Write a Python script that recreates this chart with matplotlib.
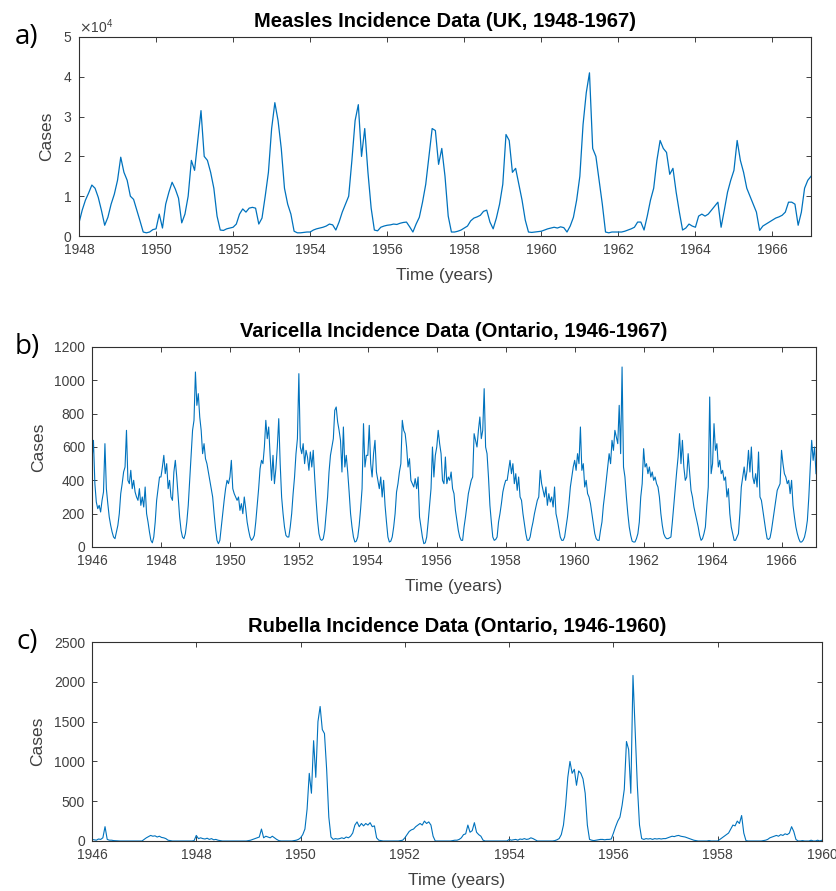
import numpy as np
import matplotlib
matplotlib.use("Agg")
import matplotlib.pyplot as plt

# measles, UK, monthly values in thousands of cases (1948 .. 1967)
measles_k = [
    3.3, 6.5, 9.0, 10.8, 12.8, 12.0, 9.7, 6.4, 2.7, 4.7, 8.0, 10.5,     # 1948
    14, 19.8, 16, 14, 10, 9.2, 6.5, 3.8, 1.0, 0.8, 1.0, 1.6,            # 1949
    1.8, 5.5, 2.0, 8.0, 11.0, 13.5, 11.8, 9.5, 3.3, 5.5, 10.0, 19.0,    # 1950
    16.5, 24, 31.5, 20, 19, 16, 12, 5, 1.5, 1.4, 1.8, 2.0,              # 1951
    2.2, 3.0, 5.5, 6.8, 6.0, 7.0, 7.2, 7.0, 3.0, 4.5, 10, 16,           # 1952
    27, 33.5, 29, 22, 12, 8, 5.5, 1.2, 0.8, 0.8, 0.9, 1.0,              # 1953
    1.0, 1.5, 1.8, 2.0, 2.2, 2.5, 3.0, 2.8, 1.5, 3.5, 6.0, 8.0,         # 1954
    10, 19, 29, 33, 20, 27, 16, 7, 1.5, 1.3, 2.2, 2.5,                  # 1955
    2.7, 2.8, 3.0, 2.9, 3.2, 3.4, 3.5, 2.3, 1.0, 3.0, 4.7, 8.5,         # 1956
    13, 20, 27, 26.5, 18, 22, 15, 5, 1.0, 1.0, 1.2, 1.5,                # 1957
    2.0, 2.5, 3.8, 4.5, 4.8, 5.2, 6.2, 6.5, 3.5, 1.8, 4.5, 8.0,         # 1958
    13, 25.5, 24, 16, 17, 13, 9, 4, 1.0, 0.9, 1.0, 1.1,                 # 1959
    1.2, 1.5, 1.8, 2.0, 2.2, 2.0, 2.3, 2.1, 1.0, 2.5, 4.7, 9.0,         # 1960
    15, 28, 36, 41, 22, 20, 14, 8, 1.0, 0.8, 1.0, 1.0,                  # 1961
    1.0, 1.0, 1.2, 1.5, 1.8, 2.2, 3.5, 3.5, 1.5, 5.0, 9.0, 12.0,        # 1962
    19, 24, 22, 21, 15.5, 17, 11, 6, 1.5, 2.0, 3.0, 2.5,                # 1963
    2.2, 5.0, 5.5, 5.0, 5.5, 6.5, 7.5, 8.5, 2.2, 6.5, 11, 14,           # 1964
    16.5, 24, 19, 16, 12, 10, 8, 6, 1.4, 2.5, 3.0, 3.5,                 # 1965
    4.0, 4.5, 4.8, 5.2, 6.0, 8.5, 8.5, 8.0, 2.7, 6.0, 12, 14,           # 1966
    15,
]

# varicella, Ontario, twice a month (1946 .. 1967)
varicella = [
    520, 640, 380, 270, 230, 250, 210, 280, 330, 620, 350, 260, 180, 130, 90, 60, 50, 90, 130, 200, 320, 380, 450, 480,
    700, 400, 380, 460, 350, 400, 330, 300, 280, 350, 250, 300, 240, 360, 200, 150, 90, 40, 25, 60, 150, 280, 350, 420,
    420, 480, 550, 440, 500, 350, 400, 300, 280, 450, 520, 420, 300, 180, 100, 60, 50, 80, 150, 250, 400, 550, 700, 760,
    1050, 850, 920, 780, 700, 560, 620, 530, 500, 450, 400, 350, 300, 200, 110, 40, 20, 40, 120, 200, 280, 350, 400, 380,
    420, 520, 350, 320, 300, 280, 300, 220, 260, 200, 300, 230, 150, 100, 60, 40, 50, 70, 150, 250, 350, 470, 520, 500,
    600, 760, 650, 720, 550, 400, 550, 380, 470, 600, 770, 500, 300, 200, 120, 70, 60, 60, 120, 200, 320, 420, 560, 650,
    1040, 600, 560, 620, 500, 580, 540, 460, 570, 480, 580, 420, 280, 160, 80, 45, 40, 50, 100, 200, 300, 450, 550, 600,
    650, 820, 840, 750, 700, 640, 450, 720, 480, 550, 450, 330, 200, 120, 60, 30, 35, 60, 130, 230, 350, 740, 480, 550,
    550, 730, 500, 420, 560, 640, 450, 400, 350, 420, 300, 400, 250, 150, 60, 30, 35, 60, 120, 200, 330, 380, 450, 500,
    760, 700, 680, 600, 480, 530, 400, 380, 360, 410, 350, 420, 180, 120, 60, 20, 25, 60, 150, 250, 350, 600, 420, 550,
    600, 700, 620, 560, 400, 380, 540, 380, 420, 400, 450, 350, 320, 220, 160, 100, 60, 40, 40, 120, 180, 250, 320, 360,
    400, 420, 680, 640, 600, 700, 780, 650, 700, 950, 600, 560, 420, 250, 150, 60, 40, 45, 60, 150, 200, 260, 330, 370,
    400, 400, 460, 520, 440, 500, 380, 440, 340, 420, 300, 280, 200, 140, 80, 40, 40, 60, 110, 150, 200, 240, 280, 300,
    460, 380, 340, 300, 360, 250, 320, 270, 300, 240, 360, 200, 160, 110, 60, 40, 40, 60, 120, 180, 260, 360, 420, 480,
    520, 460, 560, 500, 720, 460, 500, 360, 400, 320, 300, 260, 200, 140, 80, 50, 40, 40, 100, 150, 250, 320, 400, 480,
    560, 500, 640, 580, 700, 660, 620, 850, 560, 1080, 480, 420, 300, 200, 120, 70, 35, 30, 30, 50, 80, 150, 300, 380,
    590, 480, 500, 440, 480, 420, 450, 400, 420, 380, 360, 300, 200, 130, 80, 60, 50, 50, 55, 60, 150, 250, 350, 450,
    540, 680, 500, 640, 480, 400, 420, 560, 450, 340, 300, 240, 200, 160, 120, 70, 40, 50, 80, 120, 250, 360, 900, 440,
    500, 740, 580, 620, 480, 520, 440, 460, 400, 420, 300, 350, 200, 120, 80, 40, 40, 60, 80, 200, 360, 420, 480, 400,
    460, 580, 450, 600, 420, 380, 440, 360, 570, 300, 280, 220, 160, 100, 50, 45, 55, 100, 160, 220, 280, 340, 360, 380,
    580, 500, 440, 420, 380, 400, 320, 400, 250, 180, 120, 80, 50, 30, 30, 40, 60, 100, 160, 300, 480, 640, 520, 600,
    440,
]

# rubella, Ontario, twice a month (1946 .. 1960)
rubella = [
    20, 15, 10, 25, 20, 40, 180, 20, 10, 10, 5, 3, 2, 0, 0, 0, 0, 0, 0, 0, 0, 0, 0, 0,
    20, 40, 55, 70, 60, 65, 50, 60, 45, 40, 30, 10, 5, 0, 0, 0, 0, 0, 0, 0, 0, 0, 0, 5,
    70, 30, 40, 30, 25, 35, 20, 30, 15, 20, 10, 5, 0, 0, 0, 0, 0, 0, 0, 0, 0, 0, 0, 0,
    5, 10, 20, 30, 40, 50, 150, 40, 60, 50, 40, 60, 40, 20, 5, 0, 0, 0, 0, 0, 0, 5, 10, 20,
    40, 80, 150, 400, 850, 600, 1260, 800, 1500, 1690, 1400, 1350, 900, 300, 50, 20, 30, 25, 30, 40, 30, 50, 40, 60,
    100, 200, 240, 180, 220, 190, 220, 200, 230, 180, 190, 40, 10, 5, 0, 0, 0, 0, 0, 0, 0, 0, 5, 10,
    40, 80, 120, 140, 150, 180, 200, 220, 200, 250, 220, 240, 200, 60, 0, 0, 0, 0, 0, 0, 0, 0, 5, 10,
    10, 20, 40, 80, 90, 200, 110, 130, 230, 110, 80, 60, 10, 0, 0, 0, 0, 0, 0, 0, 0, 0, 0, 0,
    20, 10, 15, 20, 10, 25, 20, 30, 20, 25, 40, 30, 15, 0, 0, 0, 0, 0, 0, 0, 0, 5, 15, 30,
    80, 200, 450, 800, 1000, 850, 900, 700, 880, 850, 780, 600, 200, 20, 10, 5, 10, 15, 20, 20, 15, 20, 20, 25,
    100, 180, 250, 300, 450, 650, 1250, 1150, 600, 2080, 1400, 700, 200, 30, 20, 30, 25, 30, 20, 30, 25, 30, 25, 30,
    30, 40, 50, 60, 55, 65, 70, 60, 55, 50, 40, 30, 20, 10, 5, 0, 0, 0, 0, 0, 5, 0, 0, 0,
    0, 20, 40, 60, 80, 100, 150, 200, 190, 250, 220, 320, 100, 5, 0, 0, 0, 0, 0, 0, 0, 5, 10, 20,
    40, 50, 60, 70, 60, 80, 70, 90, 80, 100, 180, 120, 20, 0, 0, 5, 0, 0, 0, 10, 0, 0, 10, 0,
    10,
]

plt.rcParams['font.family'] = ['Liberation Sans', 'DejaVu Sans']
LINE = '#0072BD'
GREY = '#404040'
W, H = 837, 891


def style(ax, x0, x1, ymax, ystep, title):
    ax.set_xlim(x0, x1)
    ax.set_ylim(0, ymax)
    ax.set_xticks(np.arange(x0, x1 + 1, 2))
    ax.set_yticks(np.arange(0, ymax + 1, ystep))
    ax.tick_params(direction='in', top=True, right=True, length=3.5,
                   width=0.7, colors=GREY, labelsize=10, pad=5)
    for s in ax.spines.values():
        s.set_color('#303030')
        s.set_linewidth(0.8)
    ax.set_title(title, fontsize=14.5, fontweight='bold', pad=7)
    ax.set_xlabel('Time (years)', fontsize=12.5, color=GREY, labelpad=8)
    ax.set_ylabel('Cases', fontsize=12.5, color=GREY, labelpad=6)


def main():
    fig = plt.figure(figsize=(W / 100, H / 100), dpi=100)

    # panel boxes in pixels: left, top, right, bottom
    boxes = [(79, 37, 811, 236), (92, 347, 816, 547), (92, 642, 822, 841)]
    axs = []
    for l, t, r, b in boxes:
        axs.append(fig.add_axes([l / W, 1 - b / H, (r - l) / W, (b - t) / H]))

    # a) measles
    y = np.array(measles_k) * 1000
    t = 1948 + np.arange(len(y)) / 12
    axs[0].plot(t, y, color=LINE, lw=0.9)
    style(axs[0], 1948, 1967, 50000, 10000, 'Measles Incidence Data (UK, 1948-1967)')
    axs[0].ticklabel_format(axis='y', style='sci', scilimits=(0, 0), useMathText=True)
    axs[0].yaxis.get_offset_text().set_color(GREY)
    axs[0].yaxis.get_offset_text().set_fontsize(10)

    # b) varicella
    y = np.array(varicella)
    t = 1946 + np.arange(len(y)) / 24
    axs[1].plot(t, y, color=LINE, lw=0.8)
    style(axs[1], 1946, 1967, 1200, 200, 'Varicella Incidence Data (Ontario, 1946-1967)')

    # c) rubella
    y = np.array(rubella)
    t = 1946 + np.arange(len(y)) / 24
    axs[2].plot(t, y, color=LINE, lw=0.8)
    style(axs[2], 1946, 1960, 2500, 500, 'Rubella Incidence Data (Ontario, 1946-1960)')

    for (l, t_, r, b), lab in zip(boxes, ['a)', 'b)', 'c)']):
        fig.text(27 / W, 1 - t_ / H, lab, fontsize=20, family='Open Sans',
                 ha='center', va='center')

    fig.savefig('out.png', dpi=100)


if __name__ == "__main__":
    main()
